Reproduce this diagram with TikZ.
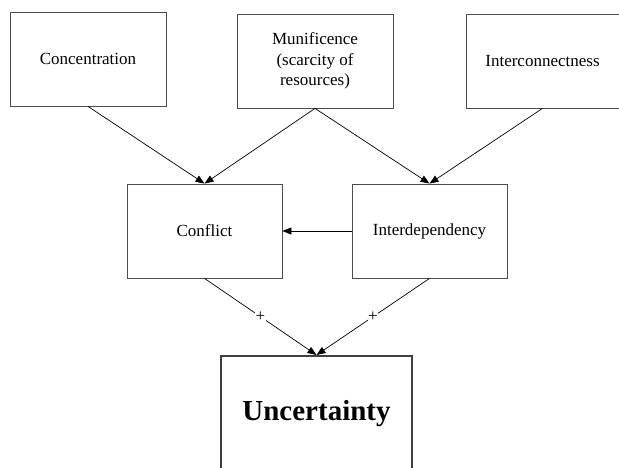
\documentclass[tikz,border=0pt]{standalone}
\usepackage{fontspec}
\setmainfont{Liberation Serif}
\usetikzlibrary{arrows.meta}
\tikzset{
    box/.style={draw=black!70, line width=0.8pt, minimum width=156, minimum height=94, align=center, font=\fontsize{17}{20.5}\selectfont},
    link/.style={-{Triangle[length=9pt,width=7pt]}, line width=0.7pt},
    sign/.style={fill=white, inner sep=0.5pt, font=\fontsize{17}{17}\selectfont}
}

\begin{document}
\begin{tikzpicture}[x=1pt,y=-1pt]
        \useasboundingbox (0,0) rectangle (619,467);
        \clip (0,0) rectangle (619,467);
    %top row
    \node[box] (conc) at (88,59) {Concentration};
    \node[box] (munif) at (315,61) {Munificence\\(scarcity of\\resources)};
    \node[box, minimum width=153] (inter) at (542.5,61) {Interconnectness};
    %middle row
    \node[box, minimum width=155] (confl) at (204.5,231) {Conflict};
    \node[box, minimum width=155] (depend) at (429.5,231) {Interdependency};
    %bottom
    \node[box, draw=black!75, line width=2pt, minimum width=191, minimum height=116, font=\fontsize{29}{30}\selectfont\bfseries] (uncert) at (316.5,414) {Uncertainty};
    %links
    \draw[link] (conc.south) -- (confl.north);
    \draw[link] (munif.south) -- (confl.north);
    \draw[link] (munif.south) -- (depend.north);
    \draw[link] (inter.south) -- (depend.north);
    \draw[link] (depend.west) -- (confl.east);
    \draw[link] (confl.south) -- node[sign] {+} (uncert.north);
    \draw[link] (depend.south) -- node[sign] {+} (uncert.north);
        \end{tikzpicture}
\end{document}
